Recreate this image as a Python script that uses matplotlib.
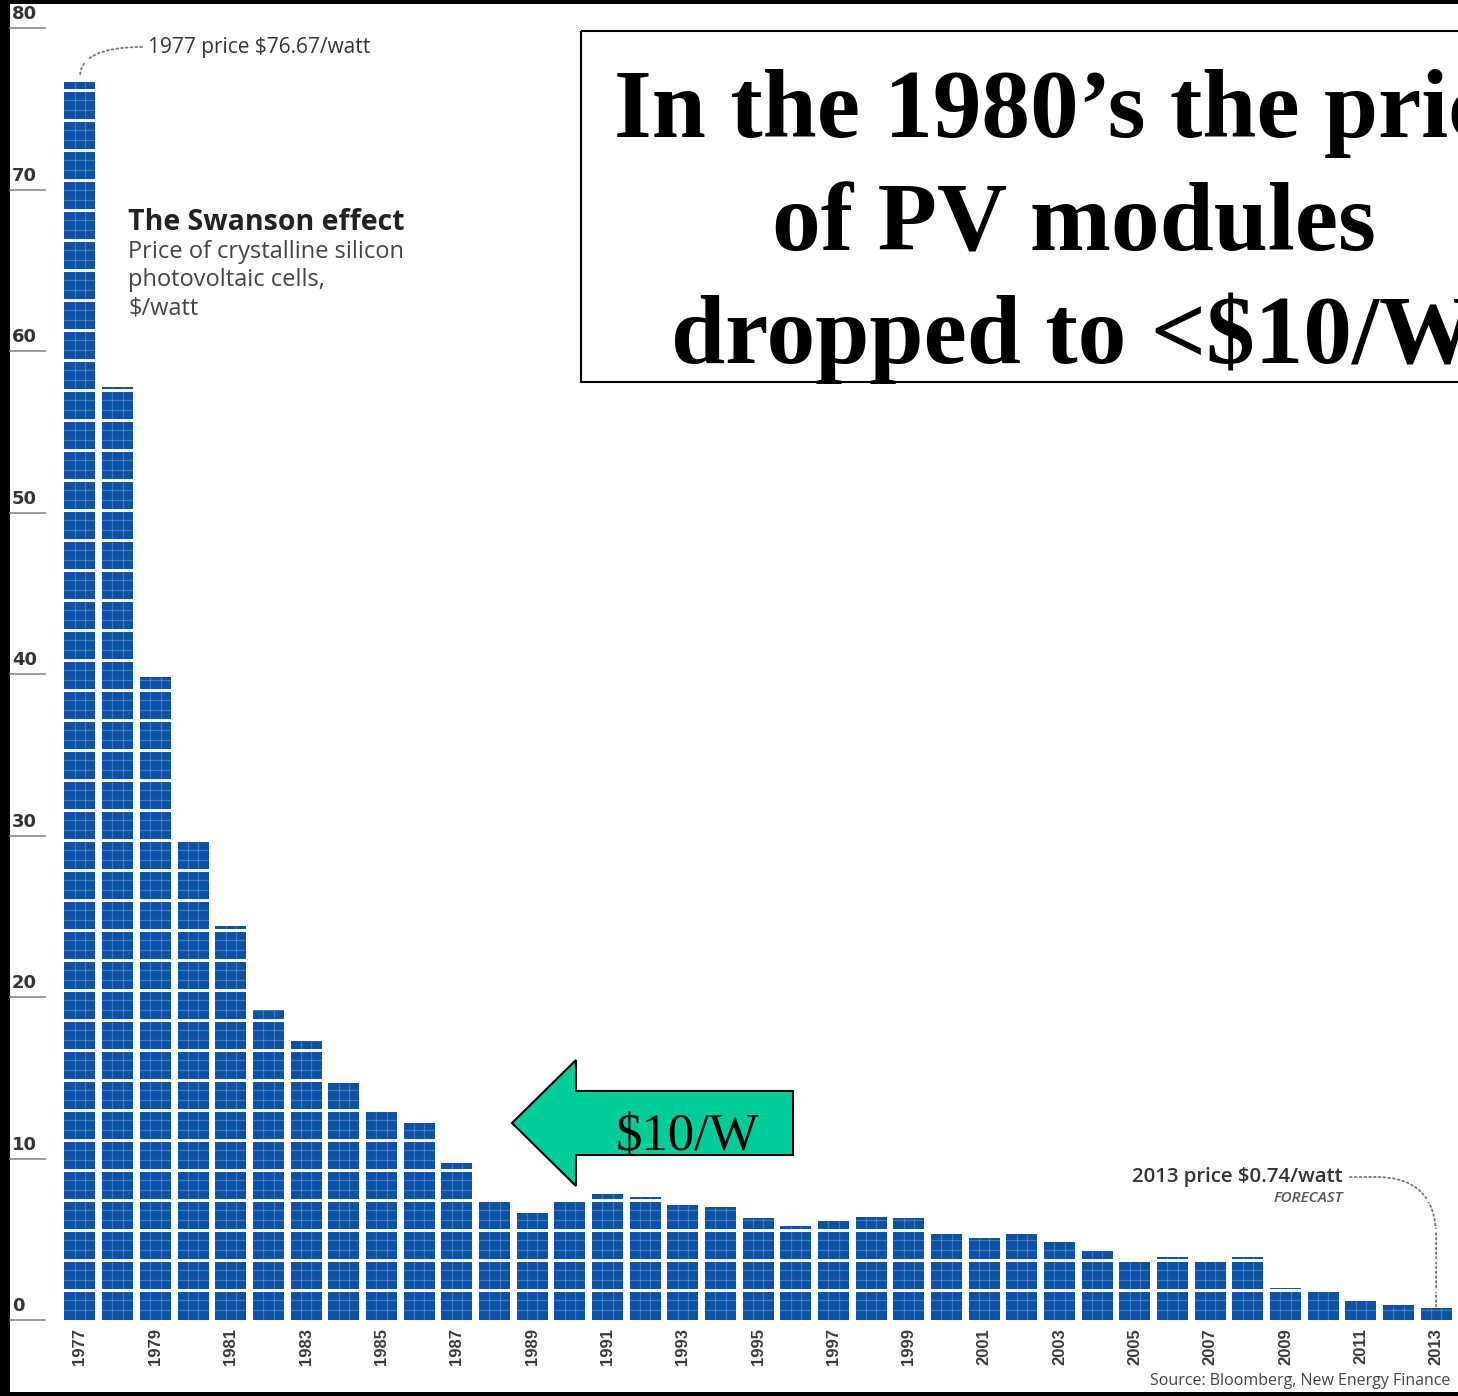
import numpy as np
import matplotlib
matplotlib.use("Agg")
import matplotlib.pyplot as plt
import matplotlib.transforms as mtransforms
from matplotlib.patches import Rectangle, Polygon

# Swanson effect data, $/watt
years = list(range(1977, 2014))
prices = [76.67, 57.8, 39.8, 29.7, 24.4, 19.2, 17.3, 14.7, 13.0, 12.2,
          9.7, 7.4, 6.6, 7.3, 7.8, 7.6, 7.1, 7.0, 6.3, 5.8,
          6.1, 6.4, 6.3, 5.3, 5.1, 5.3, 4.8, 4.3, 3.6, 3.9,
          3.8, 3.9, 2.0, 1.8, 1.2, 0.9, 0.74]
y_ticks = [0, 10, 20, 30, 40, 50, 60, 70, 80]
x_label_years = years[::2]

W, H = 1458, 1396
fig = plt.figure(figsize=(W / 100, H / 100), dpi=100, facecolor="black")
# pixel transform, origin top-left (for the decorations)
pix = mtransforms.Affine2D().scale(1, -1).translate(0, H)

ax = fig.add_axes([10 / W, 4 / H, 1448 / W, 1388 / H])
ax.set_facecolor("white")
for s in ax.spines.values():
    s.set_visible(False)
ax.set_xticks([])
ax.set_yticks([])
ax.set_xlim(1975.142, 2013.58)
ax.set_ylim(-4.458, 81.49)

bar_w = 0.823
blue = "#0B52A6"
ax.bar(years, prices, width=bar_w, color=blue, zorder=2)

# solar cell texture: column lines, row lines and gaps between panels
panel = 1.857
xs = np.array(years, dtype=float)
vals = np.array(prices)
for off in (-bar_w / 6, bar_w / 6):
    ax.vlines(xs + off, 0, vals, color="white", alpha=0.22, lw=0.9, zorder=3)
x0, x1 = years[0] - 0.6, years[-1] + 0.6
for k in range(0, 44):
    base = k * panel
    ax.hlines([base + panel / 3, base + 2 * panel / 3], x0, x1,
              color="white", alpha=0.22, lw=0.9, zorder=3)
    if k > 0:
        ax.hlines(base, x0, x1, color="white", lw=2.2, zorder=4)

# y labels with underlines
ytr = ax.get_yaxis_transform()
for v in y_ticks:
    ax.plot([0.0, 35 / 1448], [v, v], color="#888888", lw=1.2, transform=ytr,
            clip_on=False, zorder=5)
    ax.text(2 / 1448, v + 0.3, str(v), transform=ytr, ha="left", va="bottom",
            fontsize=13, fontweight="bold", color="#333333", family="DejaVu Sans")

# x labels
for yr in x_label_years:
    ax.text(yr, -0.5, str(yr), rotation=90, ha="center", va="top",
            fontsize=12, fontweight="bold", color="#3a3a3a",
            family=["Liberation Sans", "DejaVu Sans"])

sans = ["Open Sans", "DejaVu Sans"]

# annotations
ax.annotate("", xy=(1977, prices[0] + 0.3), xytext=(142, H - 47),
            textcoords="figure pixels",
            arrowprops=dict(arrowstyle="-", linestyle=":", color="#777777", lw=1.3,
                            connectionstyle="angle3,angleA=0,angleB=90",
                            shrinkA=0, shrinkB=0))
fig.text(148, 47, "1977 price $76.67/watt", transform=pix, ha="left", va="center",
         fontsize=15, color="#333333", family=sans)

fig.text(128, 222, "The Swanson effect", transform=pix, ha="left", va="center",
         fontsize=20.5, fontweight="bold", color="#222222", family=sans)
for i, line in enumerate(["Price of crystalline silicon", "photovoltaic cells,", "$/watt"]):
    fig.text(128, 252 + i * 28.5, line, transform=pix, ha="left", va="center",
             fontsize=17, color="#444444", family=sans)

ax.annotate("", xy=(2013, prices[-1] + 0.1), xytext=(1350, H - 1177),
            textcoords="figure pixels",
            arrowprops=dict(arrowstyle="-", linestyle=":", color="#777777", lw=1.3,
                            connectionstyle="angle,angleA=0,angleB=90,rad=60",
                            shrinkA=0, shrinkB=0))
fig.text(1343, 1177, "2013 price $0.74/watt", transform=pix, ha="right", va="center",
         fontsize=14.7, fontweight="semibold", color="#333333", family=sans)
fig.text(1343, 1198, "FORECAST", transform=pix, ha="right", va="center",
         fontsize=11, style="italic", fontweight="semibold", color="#555555", family=sans)
fig.text(1450, 1381, "Source: Bloomberg, New Energy Finance", transform=pix,
         ha="right", va="center", fontsize=11.5, color="#444444", family=sans)

# title box
fig.patches.append(Rectangle((581, 31), 900, 351, transform=pix, fill=False,
                             edgecolor="black", lw=1.5, zorder=6))
serif = ["Liberation Serif", "DejaVu Serif"]
for i, line in enumerate(["In the 1980\u2019s the price", "of PV modules",
                          "dropped to <$10/W"]):
    fig.text(1074, 137 + i * 113, line, transform=pix, ha="center", va="baseline",
             fontsize=70, fontweight="bold", color="black", family=serif)

# green arrow pointing at the $10/W level
arrow_pts = [(512, 1123), (576, 1060), (576, 1091), (793, 1091), (793, 1155),
             (576, 1155), (576, 1186)]
fig.patches.append(Polygon(arrow_pts, closed=True, transform=pix, facecolor="#00CC99",
                           edgecolor="black", lw=1.5, zorder=6))
fig.text(688, 1150, "$10/W", transform=pix, ha="center", va="baseline",
         fontsize=38, color="black", family=serif, zorder=7)

fig.savefig("out.png", dpi=100, facecolor=fig.get_facecolor())
